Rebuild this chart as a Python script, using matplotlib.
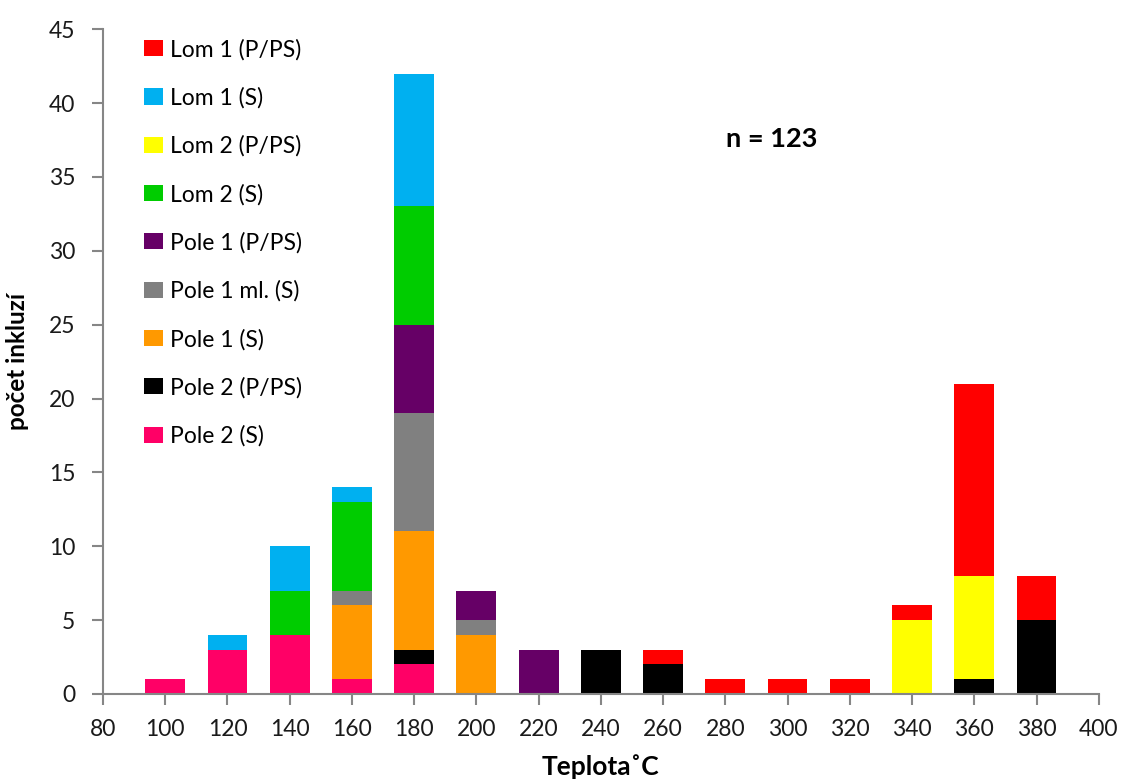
import numpy as np
import matplotlib.pyplot as plt

plt.rcParams['font.family'] = ['Lato', 'DejaVu Sans']

teplota = [100, 120, 140, 160, 180, 200, 220, 240, 260, 280, 300, 320, 340, 360, 380]

# stacked from the bottom up
pole2_s    = [1, 3, 4, 1, 2, 0, 0, 0, 0, 0, 0, 0, 0, 0, 0]
pole2_pps  = [0, 0, 0, 0, 1, 0, 0, 3, 2, 0, 0, 0, 0, 1, 5]
pole1_s    = [0, 0, 0, 5, 8, 4, 0, 0, 0, 0, 0, 0, 0, 0, 0]
pole1ml_s  = [0, 0, 0, 1, 8, 1, 0, 0, 0, 0, 0, 0, 0, 0, 0]
pole1_pps  = [0, 0, 0, 0, 6, 2, 3, 0, 0, 0, 0, 0, 0, 0, 0]
lom2_s     = [0, 0, 3, 6, 8, 0, 0, 0, 0, 0, 0, 0, 0, 0, 0]
lom2_pps   = [0, 0, 0, 0, 0, 0, 0, 0, 0, 0, 0, 0, 5, 7, 0]
lom1_s     = [0, 1, 3, 1, 9, 0, 0, 0, 0, 0, 0, 0, 0, 0, 0]
lom1_pps   = [0, 0, 0, 0, 0, 0, 0, 0, 1, 1, 1, 1, 1, 13, 3]

series = [
    ("Pole 2 (S)", pole2_s, "#FF0066"),
    ("Pole 2 (P/PS)", pole2_pps, "#000000"),
    ("Pole 1 (S)", pole1_s, "#FF9900"),
    ("Pole 1 ml. (S)", pole1ml_s, "#808080"),
    ("Pole 1 (P/PS)", pole1_pps, "#660066"),
    ("Lom 2 (S)", lom2_s, "#00CC00"),
    ("Lom 2 (P/PS)", lom2_pps, "#FFFF00"),
    ("Lom 1 (S)", lom1_s, "#00B0F0"),
    ("Lom 1 (P/PS)", lom1_pps, "#FF0000"),
]

fig = plt.figure(figsize=(11.29, 7.83), dpi=100)
ax = fig.add_axes([0.0912, 0.1137, 0.882, 0.849])

bottom = np.zeros(len(teplota))
for name, vals, col in series:
    vals = np.array(vals, dtype=float)
    ax.bar(teplota, vals, width=12.8, bottom=bottom, color=col, label=name,
           linewidth=0)
    bottom += vals

ax.set_xlim(80, 400)
ax.set_ylim(0, 45)
ax.set_xticks(range(80, 401, 20))
ax.set_yticks(range(0, 46, 5))

for s in ['top', 'right']:
    ax.spines[s].set_visible(False)
for s in ['left', 'bottom']:
    ax.spines[s].set_color('#868686')
    ax.spines[s].set_linewidth(1.5)
ax.tick_params(axis='both', colors='#868686', length=8, width=1.5,
               labelsize=16.5, labelcolor='#1a1a1a')
ax.tick_params(axis='x', pad=10)
ax.tick_params(axis='y', pad=12)

ax.set_ylabel("počet inkluzí", fontsize=17.5, fontweight='bold', labelpad=14)
ax.set_xlabel("Teplota˚C", fontsize=19, fontweight='bold', labelpad=10)

ax.text(295, 37.6, "n = 123", fontsize=19.5, fontweight='bold', ha='center', va='center')

handles, labels = ax.get_legend_handles_labels()
ax.legend(handles[::-1], labels[::-1], loc='upper left',
          bbox_to_anchor=(0.030, 1.003), frameon=False, fontsize=16.5,
          handlelength=0.8, handleheight=0.7, handletextpad=0.3,
          labelspacing=1.17, borderpad=0)

fig.savefig("out.png", dpi=100)
